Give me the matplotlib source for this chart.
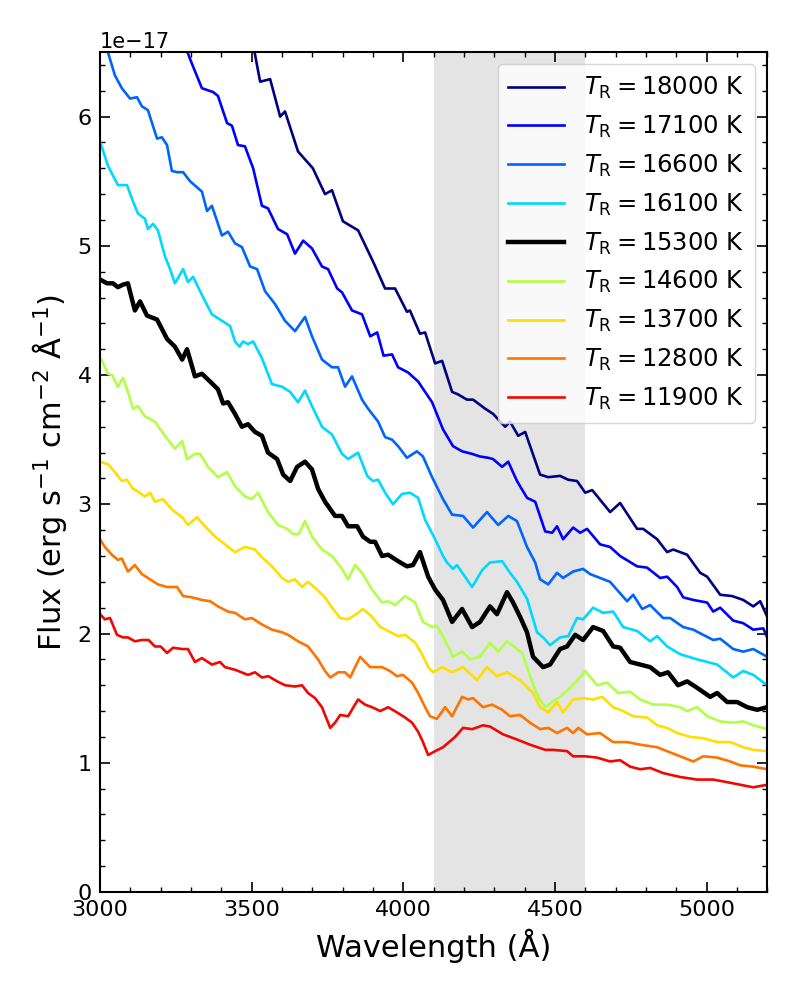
import numpy as np
import matplotlib
matplotlib.use('Agg')
from matplotlib import pyplot as plt
from matplotlib.ticker import MultipleLocator

# temperatures for the legend
temps = [18000, 17100, 16600, 16100, 15300, 14600, 13700, 12800, 11900]

# spectra, flux in units of 1e-17
w18000 = [3500, 3528, 3561, 3594, 3610, 3653, 3702, 3742, 3765, 3801, 3851, 3900, 3940, 3973, 4012, 4022, 4055, 4072,
          4105, 4128, 4161, 4181, 4210, 4230, 4270, 4296, 4336, 4352, 4379, 4402, 4451, 4478, 4517, 4544, 4573, 4600,
          4623, 4682, 4715, 4771, 4791, 4837, 4870, 4890, 4936, 4979, 5002, 5045, 5084, 5121, 5154, 5177, 5200]
f18000 = [6.62, 6.27, 6.29, 6.00, 6.04, 5.73, 5.60, 5.40, 5.43, 5.19, 5.12, 4.88, 4.67, 4.67, 4.49, 4.50, 4.32, 4.33,
          4.09, 4.11, 3.87, 3.85, 3.81, 3.81, 3.74, 3.70, 3.60, 3.64, 3.53, 3.56, 3.23, 3.21, 3.22, 3.19, 3.18, 3.09,
          3.11, 2.94, 3.01, 2.81, 2.81, 2.73, 2.63, 2.65, 2.61, 2.47, 2.44, 2.30, 2.29, 2.26, 2.21, 2.25, 2.13]

w17100 = [3280, 3303, 3336, 3373, 3389, 3419, 3435, 3455, 3478, 3505, 3534, 3554, 3587, 3617, 3643, 3670, 3699, 3732,
          3752, 3782, 3798, 3831, 3864, 3891, 3914, 3935, 3963, 3983, 4016, 4049, 4095, 4131, 4164, 4194, 4227, 4253,
          4280, 4296, 4326, 4346, 4375, 4408, 4435, 4468, 4491, 4507, 4527, 4560, 4583, 4606, 4649, 4682, 4715, 4771,
          4804, 4847, 4870, 4903, 4923, 4956, 5002, 5022, 5045, 5088, 5121, 5154, 5187, 5200]
f17100 = [6.55, 6.41, 6.22, 6.19, 6.16, 5.95, 5.93, 5.78, 5.77, 5.60, 5.31, 5.29, 5.13, 5.09, 4.94, 5.04, 4.98, 4.84,
          4.82, 4.67, 4.64, 4.50, 4.47, 4.30, 4.33, 4.15, 4.16, 4.06, 4.02, 3.95, 3.79, 3.58, 3.45, 3.41, 3.39, 3.37,
          3.36, 3.35, 3.29, 3.33, 3.18, 3.05, 3.02, 2.79, 2.78, 2.83, 2.73, 2.82, 2.78, 2.81, 2.69, 2.67, 2.60, 2.52,
          2.51, 2.43, 2.44, 2.36, 2.28, 2.26, 2.24, 2.17, 2.20, 2.10, 2.08, 2.03, 2.04, 1.97]

w16600 = [3000, 3026, 3049, 3072, 3099, 3122, 3138, 3158, 3188, 3204, 3221, 3237, 3254, 3274, 3297, 3336, 3353, 3369,
          3402, 3422, 3445, 3468, 3495, 3518, 3544, 3577, 3610, 3643, 3676, 3699, 3732, 3765, 3785, 3808, 3831, 3864,
          3884, 3917, 3940, 3963, 3983, 4012, 4045, 4065, 4095, 4131, 4161, 4197, 4230, 4276, 4313, 4346, 4375, 4408,
          4435, 4451, 4478, 4507, 4527, 4560, 4593, 4616, 4649, 4682, 4708, 4738, 4758, 4788, 4814, 4857, 4880, 4923,
          4956, 4989, 5022, 5045, 5088, 5121, 5154, 5200]
f16600 = [6.72, 6.50, 6.32, 6.22, 6.14, 6.15, 6.08, 6.05, 5.83, 5.84, 5.78, 5.58, 5.57, 5.57, 5.50, 5.42, 5.27, 5.31,
          5.08, 5.11, 5.02, 4.99, 4.84, 4.82, 4.65, 4.55, 4.42, 4.34, 4.45, 4.30, 4.12, 4.06, 4.06, 3.91, 3.99, 3.81,
          3.74, 3.64, 3.52, 3.50, 3.45, 3.36, 3.41, 3.37, 3.21, 3.04, 2.92, 2.91, 2.82, 2.94, 2.84, 2.91, 2.87, 2.67,
          2.55, 2.42, 2.38, 2.47, 2.43, 2.48, 2.50, 2.46, 2.43, 2.40, 2.33, 2.25, 2.30, 2.19, 2.22, 2.12, 2.12, 2.05,
          2.03, 1.99, 1.95, 1.96, 1.88, 1.86, 1.88, 1.82]

w16100 = [3000, 3026, 3059, 3089, 3106, 3125, 3148, 3158, 3175, 3191, 3214, 3231, 3247, 3274, 3290, 3307, 3336, 3369,
          3402, 3429, 3445, 3460, 3472, 3488, 3505, 3534, 3567, 3600, 3627, 3653, 3676, 3699, 3732, 3765, 3798, 3818,
          3851, 3881, 3900, 3917, 3940, 3966, 3996, 4022, 4049, 4072, 4105, 4131, 4144, 4164, 4177, 4227, 4260, 4286,
          4326, 4352, 4375, 4408, 4441, 4461, 4484, 4517, 4544, 4573, 4593, 4626, 4659, 4692, 4725, 4771, 4814, 4837,
          4870, 4913, 4969, 5002, 5035, 5088, 5121, 5154, 5200]
f16100 = [5.81, 5.62, 5.47, 5.47, 5.36, 5.25, 5.21, 5.13, 5.17, 5.12, 4.92, 4.82, 4.71, 4.82, 4.72, 4.76, 4.62, 4.47,
          4.42, 4.38, 4.26, 4.22, 4.26, 4.24, 4.26, 4.13, 3.93, 3.91, 3.87, 3.79, 3.88, 3.76, 3.60, 3.54, 3.39, 3.35,
          3.40, 3.22, 3.18, 3.19, 3.09, 3.00, 3.08, 3.09, 3.05, 2.88, 2.73, 2.60, 2.55, 2.50, 2.53, 2.36, 2.49, 2.55,
          2.56, 2.47, 2.40, 2.27, 2.01, 1.97, 1.91, 1.97, 1.98, 2.12, 2.11, 2.20, 2.16, 2.17, 2.05, 2.02, 1.94, 1.98,
          1.90, 1.84, 1.80, 1.78, 1.76, 1.66, 1.71, 1.68, 1.60]

w15300 = [3000, 3023, 3043, 3059, 3076, 3092, 3115, 3132, 3155, 3188, 3221, 3247, 3271, 3287, 3313, 3336, 3363, 3389,
          3406, 3422, 3445, 3468, 3488, 3511, 3534, 3554, 3584, 3604, 3627, 3650, 3676, 3699, 3719, 3742, 3775, 3798,
          3818, 3848, 3867, 3891, 3907, 3930, 3950, 3983, 4012, 4032, 4055, 4082, 4105, 4131, 4161, 4194, 4227, 4253,
          4286, 4309, 4342, 4362, 4385, 4408, 4428, 4461, 4484, 4517, 4540, 4567, 4593, 4626, 4659, 4692, 4715, 4748,
          4781, 4814, 4847, 4873, 4906, 4936, 4969, 5012, 5035, 5068, 5101, 5134, 5167, 5200]
f15300 = [4.74, 4.71, 4.71, 4.68, 4.70, 4.71, 4.50, 4.57, 4.46, 4.43, 4.28, 4.22, 4.12, 4.20, 3.99, 4.01, 3.95, 3.89,
          3.78, 3.79, 3.70, 3.60, 3.62, 3.56, 3.53, 3.40, 3.35, 3.23, 3.18, 3.29, 3.33, 3.27, 3.12, 3.02, 2.91, 2.91,
          2.83, 2.83, 2.75, 2.71, 2.71, 2.60, 2.61, 2.56, 2.52, 2.53, 2.63, 2.44, 2.34, 2.26, 2.09, 2.19, 2.05, 2.09,
          2.21, 2.15, 2.32, 2.24, 2.13, 2.01, 1.82, 1.74, 1.76, 1.88, 1.90, 1.99, 1.95, 2.05, 2.02, 1.90, 1.89, 1.78,
          1.76, 1.74, 1.68, 1.70, 1.60, 1.63, 1.58, 1.51, 1.54, 1.47, 1.47, 1.43, 1.41, 1.43]

w14600 = [3000, 3007, 3026, 3040, 3059, 3076, 3092, 3109, 3125, 3148, 3165, 3181, 3214, 3247, 3271, 3287, 3313, 3330,
          3356, 3389, 3419, 3445, 3478, 3501, 3521, 3554, 3587, 3617, 3637, 3655, 3676, 3699, 3732, 3765, 3798, 3818,
          3841, 3864, 3897, 3930, 3950, 3973, 4006, 4039, 4065, 4095, 4110, 4131, 4164, 4194, 4220, 4253, 4286, 4313,
          4342, 4375, 4392, 4418, 4445, 4468, 4491, 4517, 4550, 4583, 4600, 4639, 4672, 4708, 4748, 4781, 4824, 4870,
          4913, 4936, 4969, 5002, 5045, 5088, 5121, 5154, 5200]
f14600 = [4.13, 4.11, 4.01, 4.00, 3.91, 3.98, 3.87, 3.74, 3.76, 3.68, 3.66, 3.64, 3.53, 3.43, 3.49, 3.35, 3.39, 3.39,
          3.29, 3.21, 3.25, 3.14, 3.06, 3.04, 3.09, 2.94, 2.84, 2.81, 2.77, 2.77, 2.87, 2.75, 2.65, 2.60, 2.50, 2.42,
          2.53, 2.47, 2.34, 2.24, 2.25, 2.22, 2.29, 2.24, 2.09, 2.05, 2.06, 1.98, 1.82, 1.86, 1.80, 1.82, 1.93, 1.86,
          1.94, 1.88, 1.85, 1.67, 1.51, 1.43, 1.47, 1.51, 1.58, 1.66, 1.71, 1.60, 1.62, 1.54, 1.55, 1.49, 1.45, 1.45,
          1.43, 1.40, 1.43, 1.36, 1.32, 1.31, 1.32, 1.29, 1.26]

w13700 = [3000, 3026, 3049, 3072, 3089, 3109, 3125, 3148, 3165, 3181, 3208, 3237, 3271, 3290, 3320, 3346, 3379, 3412,
          3445, 3478, 3511, 3534, 3567, 3600, 3620, 3643, 3666, 3686, 3716, 3742, 3765, 3792, 3818, 3851, 3867, 3897,
          3924, 3950, 3983, 4006, 4039, 4062, 4082, 4098, 4128, 4161, 4197, 4243, 4276, 4309, 4342, 4385, 4428, 4451,
          4478, 4507, 4527, 4560, 4593, 4626, 4656, 4692, 4725, 4758, 4804, 4837, 4870, 4903, 4946, 4989, 5035, 5078,
          5121, 5154, 5200]
f13700 = [3.33, 3.31, 3.25, 3.18, 3.19, 3.12, 3.10, 3.06, 3.09, 3.02, 3.04, 2.96, 2.90, 2.84, 2.90, 2.83, 2.75, 2.69,
          2.63, 2.67, 2.65, 2.59, 2.52, 2.43, 2.40, 2.42, 2.36, 2.40, 2.34, 2.28, 2.20, 2.12, 2.11, 2.16, 2.19, 2.13,
          2.05, 2.02, 1.98, 1.99, 1.93, 1.84, 1.74, 1.70, 1.74, 1.70, 1.74, 1.64, 1.74, 1.67, 1.70, 1.64, 1.54, 1.43,
          1.39, 1.47, 1.39, 1.49, 1.50, 1.49, 1.51, 1.43, 1.40, 1.36, 1.35, 1.29, 1.27, 1.23, 1.20, 1.19, 1.16, 1.16,
          1.12, 1.10, 1.09]

w12800 = [3000, 3016, 3039, 3059, 3072, 3092, 3115, 3138, 3165, 3191, 3221, 3254, 3274, 3303, 3336, 3363, 3389, 3422,
          3445, 3478, 3501, 3534, 3567, 3600, 3620, 3653, 3686, 3719, 3742, 3759, 3785, 3808, 3825, 3841, 3858, 3874,
          3891, 3930, 3956, 3979, 3999, 4029, 4049, 4072, 4088, 4111, 4138, 4161, 4194, 4214, 4230, 4263, 4293, 4326,
          4352, 4385, 4418, 4451, 4478, 4507, 4540, 4560, 4577, 4606, 4649, 4692, 4738, 4781, 4837, 4870, 4913, 4956,
          4989, 5035, 5078, 5111, 5154, 5200]
f12800 = [2.73, 2.67, 2.61, 2.57, 2.58, 2.48, 2.53, 2.46, 2.42, 2.38, 2.36, 2.36, 2.29, 2.28, 2.26, 2.25, 2.21, 2.17,
          2.16, 2.11, 2.12, 2.07, 2.03, 2.01, 1.99, 1.94, 1.90, 1.80, 1.71, 1.66, 1.70, 1.70, 1.66, 1.74, 1.82, 1.78,
          1.74, 1.74, 1.71, 1.67, 1.68, 1.62, 1.54, 1.43, 1.36, 1.34, 1.43, 1.36, 1.51, 1.49, 1.50, 1.43, 1.45, 1.41,
          1.36, 1.37, 1.31, 1.26, 1.27, 1.23, 1.27, 1.23, 1.27, 1.22, 1.23, 1.16, 1.16, 1.14, 1.12, 1.09, 1.05, 1.01,
          1.05, 1.04, 1.01, 0.98, 0.97, 0.95]

w11900 = [3000, 3016, 3033, 3056, 3076, 3092, 3115, 3138, 3160, 3181, 3200, 3221, 3241, 3271, 3290, 3313, 3336, 3369,
          3396, 3412, 3445, 3488, 3511, 3534, 3555, 3584, 3610, 3643, 3666, 3686, 3709, 3732, 3759, 3775, 3792, 3818,
          3851, 3874, 3897, 3924, 3950, 3979, 4006, 4029, 4049, 4065, 4082, 4105, 4131, 4171, 4197, 4227, 4263, 4286,
          4329, 4375, 4418, 4468, 4494, 4540, 4560, 4600, 4639, 4682, 4715, 4748, 4781, 4814, 4857, 4913, 4969, 5022,
          5068, 5111, 5154, 5200]
f11900 = [2.15, 2.11, 2.12, 1.99, 1.97, 1.97, 1.94, 1.95, 1.95, 1.90, 1.90, 1.85, 1.89, 1.88, 1.88, 1.78, 1.81, 1.76,
          1.78, 1.74, 1.72, 1.68, 1.70, 1.66, 1.67, 1.63, 1.60, 1.59, 1.60, 1.54, 1.50, 1.43, 1.27, 1.31, 1.37, 1.36,
          1.49, 1.45, 1.43, 1.40, 1.43, 1.39, 1.35, 1.31, 1.24, 1.16, 1.06, 1.09, 1.12, 1.20, 1.27, 1.26, 1.29, 1.28,
          1.22, 1.18, 1.14, 1.10, 1.10, 1.09, 1.05, 1.05, 1.04, 1.01, 1.02, 0.97, 0.95, 0.96, 0.92, 0.89, 0.87, 0.87,
          0.85, 0.83, 0.81, 0.83]

waves = [w18000, w17100, w16600, w16100, w15300, w14600, w13700, w12800, w11900]
fluxes = [f18000, f17100, f16600, f16100, f15300, f14600, f13700, f12800, f11900]

colors = plt.cm.jet(np.linspace(0, 0.9, 9))
colors[4] = (0, 0, 0, 1)  # the best fit is drawn in black

fig = plt.figure(figsize=(8, 10), dpi=100)
ax = fig.add_axes([0.125, 0.108, 0.834, 0.840])

ax.axvspan(4100, 4600, color='#e4e4e4', zorder=0, lw=0)

for i in range(len(temps)):
	lw = 3.2 if i == 4 else 1.9
	ax.plot(np.array(waves[i]), np.array(fluxes[i]) * 1e-17, color=colors[i], lw=lw,
			label=r'$T_{\rm R} = %d$ K' % temps[i])

ax.set_xlim(3000, 5200)
ax.set_ylim(0, 6.5e-17)
ax.xaxis.set_major_locator(MultipleLocator(500))
ax.xaxis.set_minor_locator(MultipleLocator(100))
ax.yaxis.set_major_locator(MultipleLocator(1e-17))
ax.yaxis.set_minor_locator(MultipleLocator(0.2e-17))
ax.tick_params(which='both', direction='in', top=True, right=True, labelsize=16)
ax.tick_params(which='major', length=7, width=1.2, pad=6)
ax.tick_params(which='minor', length=3.5, width=1)
ax.yaxis.get_offset_text().set_fontsize(15)
for s in ax.spines.values():
	s.set_linewidth(1.5)

ax.set_xlabel(u'Wavelength (\u00c5)', fontsize=22, labelpad=6)
ax.set_ylabel(u'Flux (erg s$^{-1}$ cm$^{-2}$ \u00c5$^{-1}$)', fontsize=22, labelpad=6)

ax.legend(loc='upper right', fontsize=17.5, handlelength=2.3, labelspacing=0.52, borderpad=0.45,
		  borderaxespad=0.5, handletextpad=0.8)

fig.savefig('out.png')
